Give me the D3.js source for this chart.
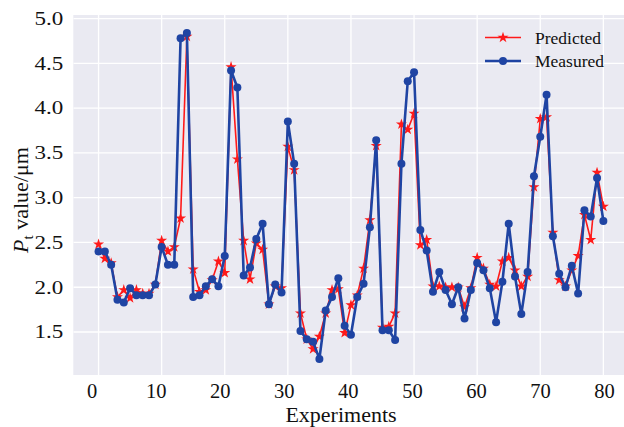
<!DOCTYPE html>
<html><head><meta charset="utf-8">
<script src="https://cdn.jsdelivr.net/npm/d3@7"></script>
<style>
html,body{margin:0;padding:0;background:#fff;}
svg{display:block;}
svg text{font-family:"Liberation Serif","Times New Roman",serif !important;fill:#111;}
</style></head>
<body>
<svg id="chart" width="624" height="427"></svg>
<script>
const experiments = d3.range(0, 81);
const measured = [2.40,2.40,2.25,1.86,1.83,1.99,1.91,1.91,1.91,2.03,
  2.45,2.25,2.25,4.78,4.84,1.89,1.91,2.01,2.09,2.01,
  2.35,4.42,4.23,2.13,2.22,2.54,2.71,1.81,2.03,1.94,
  3.85,3.38,1.51,1.42,1.39,1.20,1.74,1.89,2.10,1.57,
  1.47,1.89,2.04,2.67,3.64,1.52,1.52,1.41,3.38,4.30,
  4.40,2.64,2.41,1.95,2.17,1.97,1.81,2.00,1.65,1.97,
  2.27,2.19,1.99,1.61,2.06,2.71,2.12,1.70,2.17,3.24,
  3.68,4.15,2.57,2.15,2.00,2.24,1.93,2.86,2.79,3.22,
  2.74];
const predicted = [2.48,2.32,2.27,1.89,1.97,1.88,1.97,1.93,1.93,2.03,
  2.52,2.40,2.45,2.77,4.80,2.20,1.95,1.97,2.08,2.29,
  2.16,4.46,3.43,2.52,2.09,2.49,2.42,1.81,2.01,1.99,
  3.57,3.31,1.71,1.42,1.31,1.45,1.71,1.97,1.98,1.49,
  1.80,1.91,2.21,2.75,3.58,1.55,1.56,1.71,3.82,3.76,
  3.94,2.47,2.53,2.01,2.01,2.00,2.00,2.00,1.78,1.99,
  2.33,2.21,2.03,2.01,2.29,2.33,2.19,2.01,2.12,3.12,
  3.88,3.90,2.61,2.08,2.01,2.19,2.35,2.81,2.53,3.28,
  2.90];
const xTicks = [0,10,20,30,40,50,60,70,80];
const yTicks = [1.5,2.0,2.5,3.0,3.5,4.0,4.5,5.0];
const seriesNames = ["Predicted","Measured"];
const seriesColors = ["#ff1a1a","#1f44a3"];

const svg = d3.select("#chart");
const pL = 73.3, pT = 15, pB = 375, pR = 628.6;
const x = d3.scaleLinear().domain([-4, 84]).range([pL, pR]);
const xLab = d3.scaleLinear().domain([-4, 84]).range([66.1, 629.6]);
const y = d3.scaleLinear().domain([1.02, 5.04]).range([pB, pT]);

svg.append("defs").append("clipPath").attr("id","clip")
  .append("rect").attr("x",pL).attr("y",pT).attr("width",pR-pL).attr("height",pB-pT);

svg.append("rect").attr("x",pL).attr("y",pT).attr("width",pR-pL).attr("height",pB-pT)
  .attr("fill","#eaeaf2");

// grid
const grid = svg.append("g").attr("clip-path","url(#clip)");
grid.selectAll(".gx").data(xTicks).join("line")
  .attr("x1",d=>x(d)).attr("x2",d=>x(d)).attr("y1",pT).attr("y2",pB)
  .attr("stroke","#fff").attr("stroke-width",1.3);
grid.selectAll(".gy").data(yTicks).join("line")
  .attr("x1",pL).attr("x2",pR).attr("y1",d=>y(d)).attr("y2",d=>y(d))
  .attr("stroke","#fff").attr("stroke-width",1.3);

// axes labels
const xAxis = d3.axisBottom(xLab).tickValues(xTicks).tickSize(0).tickPadding(8).tickFormat(d3.format("d"));
const gx = svg.append("g").attr("transform",`translate(0,${pB})`).call(xAxis);
gx.attr("font-family",null);
gx.select(".domain").remove();
gx.selectAll("text").attr("font-size",20.5).attr("fill","#111");

const yAxis = d3.axisLeft(y).tickValues(yTicks).tickSize(0).tickPadding(7.8).tickFormat(d3.format(".1f"));
const gy = svg.append("g").attr("transform",`translate(${pL},0)`).call(yAxis);
gy.attr("font-family",null);
gy.select(".domain").remove();
gy.selectAll("text").attr("font-size",18).attr("fill","#111").attr("transform","scale(1.28,1)");

svg.append("text").attr("x",341).attr("y",422).attr("text-anchor","middle")
  .attr("font-size",22).text("Experiments");

const yl = svg.append("text").attr("transform","translate(28,200) rotate(-90)")
  .attr("text-anchor","middle").attr("font-size",22);
yl.append("tspan").attr("font-style","italic").text("P");
yl.append("tspan").attr("font-size",15).attr("dy",5).text("t");
yl.append("tspan").attr("dy",-5).text(" value/μm");

// series
const plot = svg.append("g").attr("clip-path","url(#clip)");
const line = d3.line().x((d,i)=>x(experiments[i])).y(d=>y(d));
const star = d3.symbol().type(d3.symbolStar).size(38);

plot.append("path").datum(predicted).attr("d",line)
  .attr("fill","none").attr("stroke",seriesColors[0]).attr("stroke-width",1.6).attr("stroke-linejoin","round");
plot.selectAll(".ps").data(predicted).join("path")
  .attr("transform",(d,i)=>`translate(${x(experiments[i])},${y(d)})`)
  .attr("d",star).attr("fill",seriesColors[0]);

plot.append("path").datum(measured).attr("d",line)
  .attr("fill","none").attr("stroke",seriesColors[1]).attr("stroke-width",2.6).attr("stroke-linejoin","round");
plot.selectAll(".mc").data(measured).join("circle")
  .attr("cx",(d,i)=>x(experiments[i])).attr("cy",d=>y(d)).attr("r",4)
  .attr("fill",seriesColors[1]);

// legend
const lg = svg.append("g");
seriesNames.forEach((name,k)=>{
  const ly = 37.5 + k*23.5;
  lg.append("line").attr("x1",485).attr("x2",521).attr("y1",ly).attr("y2",ly)
    .attr("stroke",seriesColors[k]).attr("stroke-width",k?2.6:1.6);
  if(k===0){
    lg.append("path").attr("transform",`translate(503,${ly})`).attr("d",star).attr("fill",seriesColors[0]);
  } else {
    lg.append("circle").attr("cx",503).attr("cy",ly).attr("r",4).attr("fill",seriesColors[1]);
  }
  lg.append("text").attr("x",535).attr("y",ly+6).attr("font-size",17.5).text(name);
});
</script>
</body></html>
